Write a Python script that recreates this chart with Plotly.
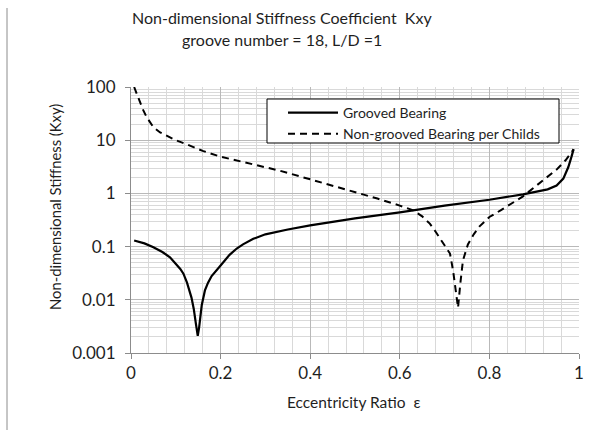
import plotly.graph_objects as go

# Grooved bearing (solid)
grooved_x = [0.007, 0.03, 0.05, 0.07, 0.087, 0.1, 0.11, 0.117, 0.125, 0.135, 0.14, 0.145,
             0.149, 0.152, 0.154, 0.158, 0.165, 0.172, 0.18, 0.19, 0.2, 0.22, 0.236, 0.25,
             0.273, 0.3, 0.35, 0.4, 0.5, 0.6, 0.7, 0.8, 0.875, 0.93, 0.95, 0.965,
             0.976, 0.983, 0.988]
grooved_y = [0.13, 0.115, 0.097, 0.079, 0.063, 0.048, 0.038, 0.031, 0.021, 0.011, 0.0068, 0.0035,
             0.0021, 0.003, 0.0047, 0.008, 0.015, 0.021, 0.028, 0.036, 0.044, 0.07, 0.092, 0.11,
             0.14, 0.17, 0.21, 0.25, 0.34, 0.44, 0.59, 0.76, 0.96, 1.19, 1.4, 1.9,
             3.1, 4.8, 6.8]

# Non-grooved bearing per Childs (dashed)
childs_x = [0.007, 0.012, 0.02, 0.027, 0.035, 0.05, 0.065, 0.08, 0.1, 0.124, 0.16, 0.2, 0.274,
            0.33, 0.4, 0.45, 0.5, 0.55, 0.6, 0.63, 0.65, 0.667, 0.68, 0.693, 0.705, 0.712,
            0.719, 0.726, 0.73, 0.735, 0.741, 0.752, 0.765, 0.778, 0.8, 0.825, 0.85,
            0.875, 0.9, 0.925, 0.95, 0.97, 0.988]
childs_y = [100, 78, 52, 37, 27, 17.6, 14, 12, 10, 8.4, 6.3, 4.9, 3.5,
            2.7, 1.84, 1.4, 1.06, 0.8, 0.59, 0.48, 0.37, 0.27, 0.19, 0.13, 0.095, 0.074,
            0.035, 0.011, 0.0071, 0.02, 0.055, 0.11, 0.17, 0.24, 0.36, 0.48, 0.64,
            0.88, 1.3, 1.9, 2.8, 4.2, 6.7]

x_ticks = [0, 0.2, 0.4, 0.6, 0.8, 1]
x_tick_text = ["0", "0.2", "0.4", "0.6", "0.8", "1"]
y_ticks = [0.001, 0.01, 0.1, 1, 10, 100]
y_tick_text = ["0.001", "0.01", "0.1", "1", "10", "100"]

title_lines = ["Non-dimensional Stiffness Coefficient  Kxy", "groove number = 18, L/D =1"]
x_title = "Eccentricity Ratio  ε"
y_title = "Non-dimensional Stiffness (Kxy)"

FONT = "Lato"
TXT = "#1f1f1f"
AX = "#8c8c8c"

L, R, T, B = 131, 21, 87, 77
PW, PH = 600 - L - R, 430 - T - B


def px(x):
    return (x - L) / PW


def py(y):
    return (430 - B - y) / PH


fig = go.Figure()
fig.add_trace(go.Scatter(x=grooved_x, y=grooved_y, mode="lines", name="Grooved Bearing",
                         legendgroup="a",
                         line=dict(color="black", width=2.2)))
fig.add_trace(go.Scatter(x=childs_x, y=childs_y, mode="lines",
                         name="Non-grooved Bearing per Childs", legendgroup="b",
                         line=dict(color="black", width=2, dash="7px,5px")))

fig.update_layout(
    width=600, height=430,
    margin=dict(l=L, r=R, t=T, b=B),
    paper_bgcolor="white", plot_bgcolor="white",
    font=dict(family=FONT, color=TXT, size=13),
    showlegend=True,
    legend=dict(x=px(283), y=py(97), xanchor="left", yanchor="top",
                bgcolor="rgba(0,0,0,0)", borderwidth=0,
                font=dict(family=FONT, size=14, color=TXT),
                itemwidth=50, tracegroupgap=0),
    xaxis=dict(range=[0, 1], tickvals=x_ticks, ticktext=x_tick_text,
               showline=True, linecolor=AX, linewidth=1,
               ticks="outside", ticklen=5, tickcolor=AX,
               showgrid=True, gridcolor="#b9b9b9", gridwidth=1,
               minor=dict(dtick=0.04, showgrid=True, gridcolor="#d9d9d9", gridwidth=1),
               zeroline=False,
               tickfont=dict(family=FONT, size=17, color=TXT)),
    yaxis=dict(type="log", range=[-3, 2], tickvals=y_ticks, ticktext=y_tick_text,
               showline=True, linecolor=AX, linewidth=1,
               ticks="outside", ticklen=5, tickcolor=AX, ticklabelstandoff=6,
               showgrid=True, gridcolor="#b9b9b9", gridwidth=1,
               minor=dict(dtick="D1", showgrid=True, gridcolor="#d9d9d9", gridwidth=1),
               zeroline=False,
               tickfont=dict(family=FONT, size=17, color=TXT)),
)

# titles
fig.add_annotation(text=title_lines[0], xref="paper", yref="paper", x=px(282), y=py(17),
                   showarrow=False, xanchor="center", yanchor="middle",
                   font=dict(family=FONT, size=16, color=TXT))
fig.add_annotation(text=title_lines[1], xref="paper", yref="paper", x=px(282), y=py(40),
                   showarrow=False, xanchor="center", yanchor="middle",
                   font=dict(family=FONT, size=16, color=TXT))
fig.add_annotation(text=x_title, xref="paper", yref="paper", x=px(354), y=py(402),
                   showarrow=False, xanchor="center", yanchor="middle",
                   font=dict(family=FONT, size=15.5, color=TXT))
fig.add_annotation(text=y_title, xref="paper", yref="paper", x=px(55), y=py(207),
                   showarrow=False, xanchor="center", yanchor="middle", textangle=-90,
                   font=dict(family=FONT, size=14.8, color=TXT))

# legend frame
fig.add_shape(type="rect", xref="paper", yref="paper",
              x0=px(267), x1=px(559), y0=py(143), y1=py(99),
              fillcolor="white", line=dict(color="black", width=1), layer="above")

# chart-area border on the left edge
fig.add_shape(type="line", xref="paper", yref="paper",
              x0=px(7), x1=px(7), y0=py(430), y1=py(8),
              line=dict(color=AX, width=1))

fig.write_html("out.html")
